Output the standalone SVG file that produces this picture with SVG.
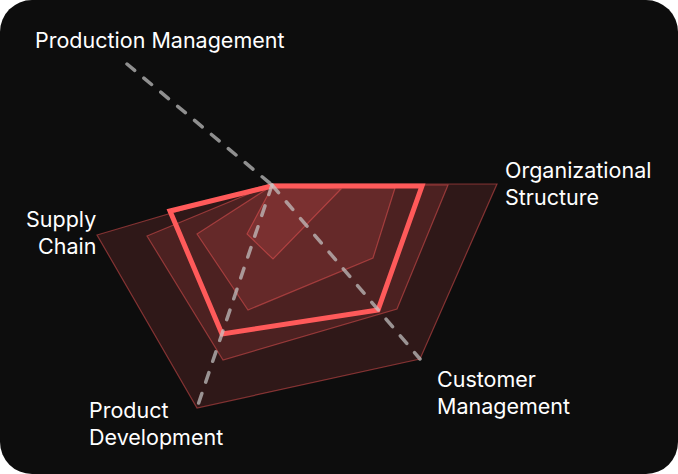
<svg xmlns="http://www.w3.org/2000/svg" width="678" height="474" viewBox="0 0 678 474">
<style>
.lbl{font-family:Inter,"Noto Sans",sans-serif;font-size:21.5px;fill:#fff}
.ring{fill:#ff5a5a;fill-opacity:0.14;stroke:#ff5a5a;stroke-opacity:0.45;stroke-width:1.2}
.axis{stroke:#c8c8c8;stroke-opacity:0.7;stroke-width:3.5;stroke-dasharray:10 12;stroke-linecap:round;fill:none}
</style>
<rect width="678" height="474" rx="32" fill="#0d0d0d"/>
<g id="rings">
<polygon class="ring" points="97,235 270,184 497,184 420,359 197,408"/>
<polygon class="ring" points="147,236 270,185 448,185 397,309 223,360"/>
<polygon class="ring" points="197,234 270,187 395,188 373,258 248,310"/>
<polygon class="ring" points="247,234 272,187 341,189 273,259"/>
</g>
<g id="data">
<polygon points="170,211 272,186 422,186 378,310 222,334" fill="none" stroke="#ff5a5a" stroke-width="5" stroke-linejoin="miter"/>
</g>
<g id="connectors">
<line class="axis" x1="127" y1="64" x2="272" y2="185"/>
<line class="axis" x1="272" y1="185" x2="420" y2="359"/>
<line class="axis" x1="272" y1="185" x2="197" y2="408"/>
</g>
<g id="production"><text class="lbl" x="35" y="48">Production Management</text></g>
<g id="organizational"><text class="lbl" x="505" y="178">Organizational</text><text class="lbl" x="505" y="205">Structure</text></g>
<g id="supply"><text class="lbl" x="26" y="227">Supply</text><text class="lbl" x="38" y="254">Chain</text></g>
<g id="customer"><text class="lbl" x="437" y="387">Customer</text><text class="lbl" x="437" y="414">Management</text></g>
<g id="product"><text class="lbl" x="89" y="418">Product</text><text class="lbl" x="89" y="445">Development</text></g>
</svg>
